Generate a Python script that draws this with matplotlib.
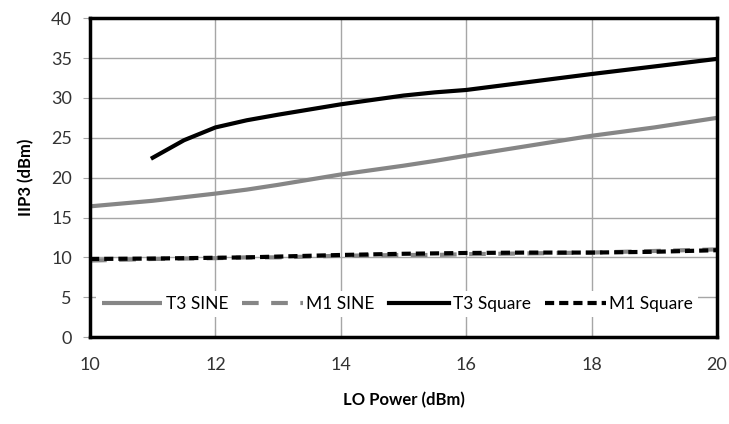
import matplotlib
matplotlib.use("Agg")
import matplotlib.pyplot as plt

plt.rcParams['font.family'] = ['Lato', 'DejaVu Sans']

# LO power sweep (dBm)
lo_power = [10, 11, 12, 12.5, 13, 14, 15, 15.5, 16, 17, 18, 19, 20]
lo_square = [11, 11.5, 12, 12.5, 13, 14, 15, 15.5, 16, 17, 18, 19, 20]

# IIP3 (dBm)
t3_sine = [16.4, 17.1, 18.0, 18.5, 19.1, 20.4, 21.5, 22.1, 22.75, 24.0, 25.25, 26.3, 27.5]
m1_sine = [9.6, 9.8, 9.9, 10.0, 10.0, 10.2, 10.3, 10.3, 10.4, 10.5, 10.6, 10.8, 11.0]
t3_square = [22.5, 24.7, 26.3, 27.2, 27.9, 29.2, 30.3, 30.7, 31.0, 32.0, 33.0, 33.95, 34.9]
m1_square = [9.8, 9.85, 9.95, 10.0, 10.1, 10.3, 10.45, 10.5, 10.55, 10.6, 10.6, 10.7, 10.9]

x_ticks = [10, 12, 14, 16, 18, 20]
y_ticks = [0, 5, 10, 15, 20, 25, 30, 35, 40]

fig = plt.figure(figsize=(7.29, 4.24), dpi=100)
ax = fig.add_axes([0.1235, 0.205, 0.860, 0.752])

gray = '#868686'
ax.plot(lo_power, t3_sine, color=gray, lw=3, label='T3 SINE', solid_capstyle='butt')
ax.plot(lo_power, m1_sine, color=gray, lw=3, dashes=(4, 3), label='M1 SINE')
ax.plot(lo_square, t3_square, color='black', lw=3, label='T3 Square')
ax.plot(lo_power, m1_square, color='black', lw=3, dashes=(2.2, 1.2), label='M1 Square')

ax.set_xlim(10, 20)
ax.set_ylim(0, 40)
ax.set_xticks(x_ticks)
ax.set_yticks(y_ticks)
ax.grid(True, color='#a6a6a6', lw=1)
ax.set_axisbelow(True)

ax.tick_params(axis='x', direction='in', length=6, color='#a6a6a6', labelsize=13, pad=14)
ax.tick_params(axis='y', direction='out', length=5, color='#a6a6a6', labelsize=13, pad=8)
for lbl in ax.get_xticklabels() + ax.get_yticklabels():
    lbl.set_color('#333333')

for s in ax.spines.values():
    s.set_linewidth(2.5)
    s.set_color('black')

ax.set_xlabel('LO Power (dBm)', fontsize=12, fontweight='bold', labelpad=14)
ax.set_ylabel('IIP3 (dBm)', fontsize=12, fontweight='bold', labelpad=12)

leg = ax.legend(loc='lower center', bbox_to_anchor=(0.49, 0.035), ncol=4, frameon=True,
                fontsize=12.5, handlelength=3.5, columnspacing=0.8, handletextpad=0.2,
                borderpad=0.3)
leg.get_frame().set_facecolor('white')
leg.get_frame().set_edgecolor('none')
leg.get_frame().set_alpha(1)

fig.savefig('out.png', dpi=100)
